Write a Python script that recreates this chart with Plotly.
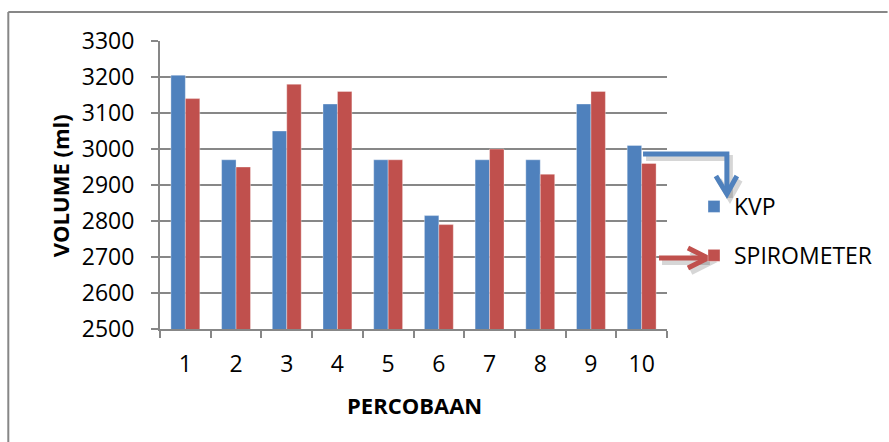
import plotly.graph_objects as go

# Data: lung volume per trial, two measuring devices
percobaan = ["1", "2", "3", "4", "5", "6", "7", "8", "9", "10"]
kvp = [3205, 2970, 3050, 3125, 2970, 2815, 2970, 2970, 3125, 3010]
spirometer = [3140, 2950, 3180, 3160, 2970, 2790, 3000, 2930, 3160, 2960]

y_ticks = [2500, 2600, 2700, 2800, 2900, 3000, 3100, 3200, 3300]

BLUE = "#4F81BD"
RED = "#C0504D"
GRID = "#878787"
FONT = "Open Sans, Lato, Liberation Sans, sans-serif"

W, H = 889, 442
ML, MR, MT, MB = 160, 221, 41, 113
PW, PH = W - ML - MR, H - MT - MB


def px(x):
    """Pixel x -> paper x."""
    return (x - ML) / PW


def py(y):
    """Pixel y (from top) -> paper y."""
    return (H - MB - y) / PH


fig = go.Figure()
fig.add_trace(go.Bar(
    x=percobaan, y=kvp, name="KVP", legendgroup="kvp",
    marker=dict(color=BLUE, line=dict(color="rgba(255,255,255,0.35)", width=1)),
))
fig.add_trace(go.Bar(
    x=percobaan, y=spirometer, name="SPIROMETER", legendgroup="spiro",
    marker=dict(color=RED, line=dict(color="rgba(255,255,255,0.35)", width=1)),
))


def path(points):
    return "M " + " L ".join(f"{px(x)},{py(y)}" for x, y in points)


shapes = []
# chart frame (top and left edges)
shapes.append(dict(type="line", xref="paper", yref="paper",
                   x0=px(8), x1=px(889), y0=py(12), y1=py(12),
                   line=dict(color=GRID, width=2)))
shapes.append(dict(type="line", xref="paper", yref="paper",
                   x0=px(8), x1=px(8), y0=py(12), y1=py(442),
                   line=dict(color=GRID, width=2)))

# connector arrows to the legend, each with a soft shadow
blue_arrow = [(644, 154), (728, 154), (728, 194)]
blue_head = [(717, 176), (728, 194), (738, 176)]
red_arrow = [(660, 258), (708, 258)]
red_head = [(689, 248), (709, 258), (689, 268)]

for pts, col in [(blue_arrow, BLUE), (blue_head, BLUE), (red_arrow, RED), (red_head, RED)]:
    sh = [(x + 3, y + 4) for x, y in pts]
    shapes.append(dict(type="path", xref="paper", yref="paper", path=path(sh),
                       line=dict(color="rgba(0,0,0,0.16)", width=6)))
for pts, col in [(blue_arrow, BLUE), (blue_head, BLUE), (red_arrow, RED), (red_head, RED)]:
    shapes.append(dict(type="path", xref="paper", yref="paper", path=path(pts),
                       line=dict(color=col, width=5)))

# axis titles
annotations = [
    dict(text="<b>VOLUME (ml)</b>", xref="paper", yref="paper",
         x=px(60), y=py(186), textangle=-90, showarrow=False,
         xanchor="center", yanchor="middle",
         font=dict(family=FONT, size=22, color="black")),
    dict(text="<b>PERCOBAAN</b>", xref="paper", yref="paper",
         x=px(415), y=py(405), showarrow=False,
         xanchor="center", yanchor="middle",
         font=dict(family=FONT, size=22, color="black")),
]

fig.update_layout(
    width=W, height=H,
    margin=dict(l=ML, r=MR, t=MT, b=MB, pad=0),
    paper_bgcolor="white", plot_bgcolor="white",
    font=dict(family=FONT, size=23, color="black"),
    barmode="group", bargap=0.43, bargroupgap=0,
    showlegend=True,
    legend=dict(
        x=px(694), y=py(185), xanchor="left", yanchor="top",
        traceorder="grouped", tracegroupgap=16,
        font=dict(family=FONT, size=23, color="black"),
        bgcolor="rgba(0,0,0,0)", itemwidth=30,
    ),
    shapes=shapes,
    annotations=annotations,
)

fig.update_xaxes(
    type="category",
    showline=True, linecolor=GRID, linewidth=2,
    ticks="outside", tickson="boundaries", ticklen=7, tickcolor=GRID, tickwidth=2,
    showgrid=False,
    tickfont=dict(family=FONT, size=23, color="black"),
    ticklabelstandoff=13,
)
fig.update_yaxes(
    range=[2500, 3300], tickvals=y_ticks,
    showline=True, linecolor=GRID, linewidth=2,
    ticks="outside", ticklen=7, tickcolor=GRID, tickwidth=2,
    showgrid=True, gridcolor=GRID, gridwidth=2, zeroline=False,
    tickfont=dict(family=FONT, size=23, color="black"),
    ticklabelstandoff=12,
)

fig.write_html("out.html")
